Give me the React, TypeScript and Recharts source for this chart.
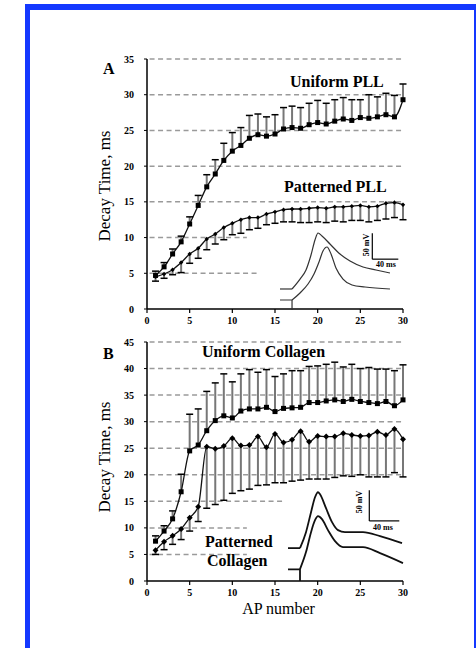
import React from "react";
import {
  LineChart,
  Line,
  XAxis,
  YAxis,
  ErrorBar,
  ReferenceLine,
} from "recharts";

// AP number on the x axis
const apNumber = [
  1, 2, 3, 4, 5, 6, 7, 8, 9, 10, 11, 12, 13, 14, 15, 16, 17, 18, 19, 20, 21,
  22, 23, 24, 25, 26, 27, 28, 29, 30,
];
const xTicks = [0, 5, 10, 15, 20, 25, 30];
const yTicksA = [0, 5, 10, 15, 20, 25, 30, 35];
const yTicksB = [0, 5, 10, 15, 20, 25, 30, 35, 40, 45];

// Panel A, decay time (ms)
const uniformPLL = [
  4.7, 5.9, 7.7, 9.4, 11.9, 14.5, 17.1, 18.9, 20.8, 22.1, 22.9, 23.9, 24.4,
  24.2, 24.5, 25.2, 25.4, 25.3, 25.8, 26.1, 25.9, 26.3, 26.6, 26.4, 26.8, 26.7,
  26.9, 27.2, 26.9, 29.3,
];
const uniformPLLErr = [
  0.6, 0.6, 0.7, 0.8, 1.0, 1.4, 1.7, 2.0, 2.4, 2.6, 2.5, 3.2, 2.9, 2.7, 2.7,
  3.0, 3.0, 2.9, 3.0, 3.1, 2.9, 3.0, 3.0, 2.9, 2.5, 3.3, 2.8, 3.0, 3.0, 2.2,
];
const patternedPLL = [
  4.5, 4.9, 5.5, 6.5, 7.7, 8.5, 9.8, 10.5, 11.4, 12.0, 12.5, 12.8, 12.8, 13.3,
  13.6, 13.9, 14.0, 14.0, 14.1, 14.2, 14.1, 14.3, 14.3, 14.4, 14.5, 14.3, 14.4,
  14.8, 14.9, 14.6,
];
const patternedPLLErr = [
  0.6, 0.6, 0.7, 1.4, 1.3, 1.4, 1.5, 1.4, 1.7, 1.6, 1.9, 1.7, 1.5, 1.5, 1.6,
  1.7, 1.8, 1.9, 2.0, 2.0, 2.0, 2.0, 2.1, 2.0, 2.1, 2.1, 2.0, 2.2, 2.1, 2.1,
];

// Panel B, decay time (ms)
const uniformCollagen = [
  7.5, 9.4, 11.7, 16.8, 24.5, 25.6, 28.3, 30.2, 31.1, 30.7, 32.0, 32.4, 32.4,
  32.7, 31.9, 32.5, 32.6, 32.7, 33.6, 33.6, 33.9, 34.1, 33.8, 34.2, 33.8, 33.6,
  33.4, 33.8, 33.0, 34.1,
];
const uniformCollagenErr = [
  1.0, 1.0, 1.5, 3.3, 6.9, 6.8, 7.4, 7.1, 7.9, 6.8, 7.0, 7.4, 6.9, 7.1, 6.6,
  6.5, 7.0, 6.9, 6.8, 6.9, 6.9, 7.1, 6.5, 6.6, 6.2, 6.6, 6.5, 6.1, 6.6, 6.6,
];
const patternedCollagen = [
  5.8, 7.4, 8.5, 9.8, 11.9, 14.0, 25.3, 24.9, 25.4, 26.9, 25.5, 25.6, 27.2,
  25.2, 27.7, 26.1, 26.6, 28.2, 26.2, 27.3, 27.2, 27.2, 27.8, 27.5, 27.3, 27.4,
  28.1, 27.5, 28.6, 26.7,
];
const patternedCollagenErr = [
  0.8, 1.5, 1.6, 2.0, 2.5, 2.8, 11.6, 10.5, 10.2, 10.4, 8.5, 8.3, 9.2, 7.1,
  9.2, 7.6, 7.8, 9.2, 7.0, 8.1, 8.0, 7.7, 8.0, 7.8, 7.3, 7.8, 8.5, 7.9, 8.2,
  7.1,
];

// inset action potentials: time (ms) and voltage (mV)
const apA_upperStubT = [7.7, 26.2];
const apA_upperStubV = [40.5, 40.5];
const apA_upperT = [26.2, 38.5, 47.7, 55.4, 61.5, 66.2, 72.3, 84.6, 100, 115.4, 135.4, 155.4, 176.9];
const apA_upperV = [40.5, 59.7, 77.1, 106, 134.9, 148.4, 142.6, 127.2, 107.9, 94.4, 82.9, 77.1, 71.3];
const apA_lowerStubT = [7.7, 26.2, 26.2];
const apA_lowerStubV = [19.3, 19.3, 0];
const apA_lowerT = [26.2, 38.5, 50.8, 60, 67.7, 73.8, 80, 86.2, 93.8, 104.6, 118.5, 138.5, 176.9];
const apA_lowerV = [19.3, 32.8, 50.1, 69.4, 92.5, 113.7, 121.4, 107.9, 80.9, 59.7, 48.2, 44.3, 40.5];

const apB_upperStubT = [4, 20];
const apB_upperStubV = [53.7, 53.7];
const apB_upperT = [20, 28, 34.7, 40, 44, 46.7, 54.7, 62.7, 70.7, 80, 104, 126.7, 156];
const apB_upperV = [53.7, 79.8, 112.4, 136.8, 145, 141.7, 118.9, 96.1, 83.1, 79.8, 79.8, 73.3, 61.9];
const apB_lowerStubT = [4, 20, 20];
const apB_lowerStubV = [19.1, 19.1, 0];
const apB_lowerT = [20, 28, 34.7, 40, 44, 49.3, 57.3, 66.7, 77.3, 104, 126.7, 157.3];
const apB_lowerV = [19.5, 47.2, 79.8, 99.3, 105.9, 101, 83.1, 65.1, 55.4, 55.4, 45.6, 29.3];

const serif = "'Liberation Serif', 'Times New Roman', serif";

// which horizontal dashed lines run the full width, and where the short ones stop
const gridA = [
  { v: 35, end: 30 },
  { v: 30, end: 30 },
  { v: 25, end: 30 },
  { v: 20, end: 30 },
  { v: 15, end: 30 },
  { v: 10, end: 11.7 },
  { v: 5, end: 12.9 },
];
const gridB = [
  { v: 45, end: 30 },
  { v: 40, end: 30 },
  { v: 35, end: 30 },
  { v: 30, end: 30 },
  { v: 25, end: 30 },
  { v: 20, end: 30 },
  { v: 15, end: 15.9 },
  { v: 10, end: 11.7 },
  { v: 5, end: 11.7 },
];

const dataA = apNumber.map((ap, i) => ({
  ap,
  uniform: uniformPLL[i],
  uniformErr: [0, uniformPLLErr[i]],
  uniformCap: uniformPLL[i] + uniformPLLErr[i],
  patterned: patternedPLL[i],
  patternedErr: [patternedPLLErr[i], 0],
  patternedCap: patternedPLL[i] - patternedPLLErr[i],
}));
const dataB = apNumber.map((ap, i) => ({
  ap,
  uniform: uniformCollagen[i],
  uniformErr: [0, uniformCollagenErr[i]],
  uniformCap: uniformCollagen[i] + uniformCollagenErr[i],
  patterned: patternedCollagen[i],
  patternedErr: [patternedCollagenErr[i], 0],
  patternedCap: patternedCollagen[i] - patternedCollagenErr[i],
}));

const pairs = (t: number[], v: number[]) => t.map((x, i) => ({ t: x, v: v[i] }));

const squareDot = (p: any) => {
  if (p.cx == null || p.cy == null) return <g key={`s-${p.index}`} />;
  return (
    <rect key={`s-${p.index}`} x={p.cx - 2.5} y={p.cy - 2.5} width={5} height={5} fill="#000" />
  );
};
const diamondDot = (size: number) => (p: any) => {
  if (p.cx == null || p.cy == null) return <g key={`d-${p.index}`} />;
  const { cx, cy } = p;
  return (
    <path
      key={`d-${p.index}`}
      d={`M${cx},${cy - size}L${cx + size},${cy}L${cx},${cy + size}L${cx - size},${cy}Z`}
      fill="#000"
    />
  );
};
// one-sided error bar cap
const capDot = (p: any) => {
  if (p.cx == null || p.cy == null) return <g key={`c-${p.index}`} />;
  return (
    <line
      key={`c-${p.index}`}
      x1={p.cx - 3.5}
      x2={p.cx + 3.5}
      y1={p.cy}
      y2={p.cy}
      stroke="#000"
      strokeWidth={1.5}
    />
  );
};

const axisTick = { fontSize: 10, fontFamily: serif, fontWeight: "bold", fill: "#000" };

function Panel({ data, grid, yMax, yTicks, height, top, marginTop, plotH, diamond }: any) {
  return (
    <div style={{ position: "absolute", left: 0, top }}>
      <LineChart
        width={476}
        height={height}
        data={data}
        margin={{ top: marginTop, right: 73, left: 107, bottom: height - marginTop - plotH - 30 }}
      >
        <XAxis
          dataKey="ap"
          type="number"
          domain={[0, 30]}
          ticks={xTicks}
          interval={0}
          height={30}
          tickSize={4}
          tickMargin={4}
          axisLine={{ stroke: "#000", strokeWidth: 1.5 }}
          tickLine={{ stroke: "#000", strokeWidth: 1.2 }}
          tick={axisTick}
        />
        <YAxis
          type="number"
          domain={[0, yMax]}
          ticks={yTicks}
          interval={0}
          width={40}
          tickSize={3}
          tickMargin={10}
          axisLine={{ stroke: "#000", strokeWidth: 1.5 }}
          tickLine={{ stroke: "#000", strokeWidth: 1 }}
          tick={axisTick}
        />
        {grid.map((g: any) => (
          <ReferenceLine
            key={g.v}
            segment={[
              { x: 0.3, y: g.v },
              { x: g.end, y: g.v },
            ]}
            stroke="#9a9a9a"
            strokeWidth={1.5}
            strokeDasharray="5 3.5"
          />
        ))}
        <Line
          dataKey="patterned"
          type="monotone"
          stroke="#111"
          strokeWidth={1.3}
          dot={diamondDot(diamond)}
          isAnimationActive={false}
        >
          <ErrorBar dataKey="patternedErr" direction="y" width={0} stroke="#777" strokeWidth={2} />
        </Line>
        <Line
          dataKey="patternedCap"
          stroke="none"
          dot={capDot}
          activeDot={false}
          isAnimationActive={false}
        />
        <Line
          dataKey="uniform"
          type="monotone"
          stroke="#111"
          strokeWidth={1.3}
          dot={squareDot}
          isAnimationActive={false}
        >
          <ErrorBar dataKey="uniformErr" direction="y" width={0} stroke="#777" strokeWidth={2} />
        </Line>
        <Line
          dataKey="uniformCap"
          stroke="none"
          dot={capDot}
          activeDot={false}
          isAnimationActive={false}
        />
      </LineChart>
    </div>
  );
}

function Inset({ left, top, width, height, tMax, vMax, traces, bar, strokeWidth, color }: any) {
  return (
    <div style={{ position: "absolute", left, top }}>
      <LineChart width={width} height={height} margin={{ top: 0, right: 0, left: 0, bottom: 0 }}>
        <XAxis dataKey="t" type="number" domain={[0, tMax]} hide allowDataOverflow />
        <YAxis type="number" domain={[0, vMax]} hide allowDataOverflow />
        {traces.map((tr: any, i: number) => (
          <Line
            key={i}
            data={tr.data}
            dataKey="v"
            type={tr.type}
            stroke={color}
            strokeWidth={strokeWidth}
            dot={false}
            isAnimationActive={false}
          />
        ))}
        <ReferenceLine
          segment={[
            { x: bar.t, y: bar.v },
            { x: bar.t, y: bar.v + 50 },
          ]}
          stroke="#000"
          strokeWidth={1.2}
          ifOverflow="visible"
        />
        <ReferenceLine
          segment={[
            { x: bar.t, y: bar.v },
            { x: bar.t + 40, y: bar.v },
          ]}
          stroke="#000"
          strokeWidth={1.2}
          ifOverflow="visible"
        />
      </LineChart>
    </div>
  );
}

export default function App() {
  const tracesA = [
    { data: pairs(apA_upperStubT, apA_upperStubV), type: "linear" },
    { data: pairs(apA_upperT, apA_upperV), type: "monotone" },
    { data: pairs(apA_lowerStubT, apA_lowerStubV), type: "linear" },
    { data: pairs(apA_lowerT, apA_lowerV), type: "monotone" },
  ];
  const tracesB = [
    { data: pairs(apB_upperStubT, apB_upperStubV), type: "linear" },
    { data: pairs(apB_upperT, apB_upperV), type: "monotone" },
    { data: pairs(apB_lowerStubT, apB_lowerStubV), type: "linear" },
    { data: pairs(apB_lowerT, apB_lowerV), type: "monotone" },
  ];
  const bold = { fontFamily: serif, fontWeight: "bold", fill: "#000" } as const;
  const plain = { fontFamily: serif, fill: "#000" } as const;
  return (
    <div
      style={{
        position: "absolute",
        left: 0,
        top: 0,
        width: 476,
        height: 648,
        background: "#fff",
        overflow: "hidden",
      }}
    >
      <div
        style={{
          position: "absolute",
          left: 25,
          top: 4,
          width: 444,
          height: 700,
          borderLeft: "5px solid #1438ff",
          borderTop: "6px solid #1438ff",
          borderRight: "2px solid #1438ff",
        }}
      />
      <Panel data={dataA} grid={gridA} yMax={35} yTicks={yTicksA} height={340} top={0} marginTop={59} plotH={250} diamond={2.2} />
      <Panel data={dataB} grid={gridB} yMax={45} yTicks={yTicksB} height={300} top={330} marginTop={12} plotH={239} diamond={3} />
      <Inset left={275} top={227} width={130} height={83} tMax={200} vMax={160} traces={tracesA} bar={{ t: 149.7, v: 98 }} strokeWidth={1.2} color="#333" />
      <Inset left={285} top={480} width={120} height={101} tMax={160} vMax={165} traces={tracesB} bar={{ t: 112.4, v: 98.2 }} strokeWidth={1.8} color="#111" />
      <svg
        width={476}
        height={648}
        style={{ position: "absolute", left: 0, top: 0, pointerEvents: "none" }}
      >
        <text x={103} y={74} fontSize={16} {...bold}>A</text>
        <text x={103} y={359} fontSize={16} {...bold}>B</text>
        <text x={290} y={87} fontSize={16} {...bold}>Uniform PLL</text>
        <text x={284} y={192} fontSize={16} {...bold}>Patterned PLL</text>
        <text x={202} y={357} fontSize={16} {...bold}>Uniform Collagen</text>
        <text x={205} y={547} fontSize={16} {...bold}>Patterned</text>
        <text x={207} y={566} fontSize={16} {...bold}>Collagen</text>
        <text x={369} y={245} fontSize={8} textAnchor="middle" transform="rotate(-90 369 245)" {...bold}>50 mV</text>
        <text x={376} y={267} fontSize={8} {...bold}>40 ms</text>
        <text x={361.5} y={502} fontSize={8} textAnchor="middle" transform="rotate(-90 361.5 502)" {...bold}>50 mV</text>
        <text x={373} y={530} fontSize={8} {...bold}>40 ms</text>
        <text x={110} y={186} fontSize={17} textAnchor="middle" transform="rotate(-90 110 186)" {...plain}>Decay Time, ms</text>
        <text x={110} y={457} fontSize={17} textAnchor="middle" transform="rotate(-90 110 457)" {...plain}>Decay Time, ms</text>
        <text x={278.5} y={614} fontSize={16} textAnchor="middle" {...plain}>AP number</text>
      </svg>
    </div>
  );
}
